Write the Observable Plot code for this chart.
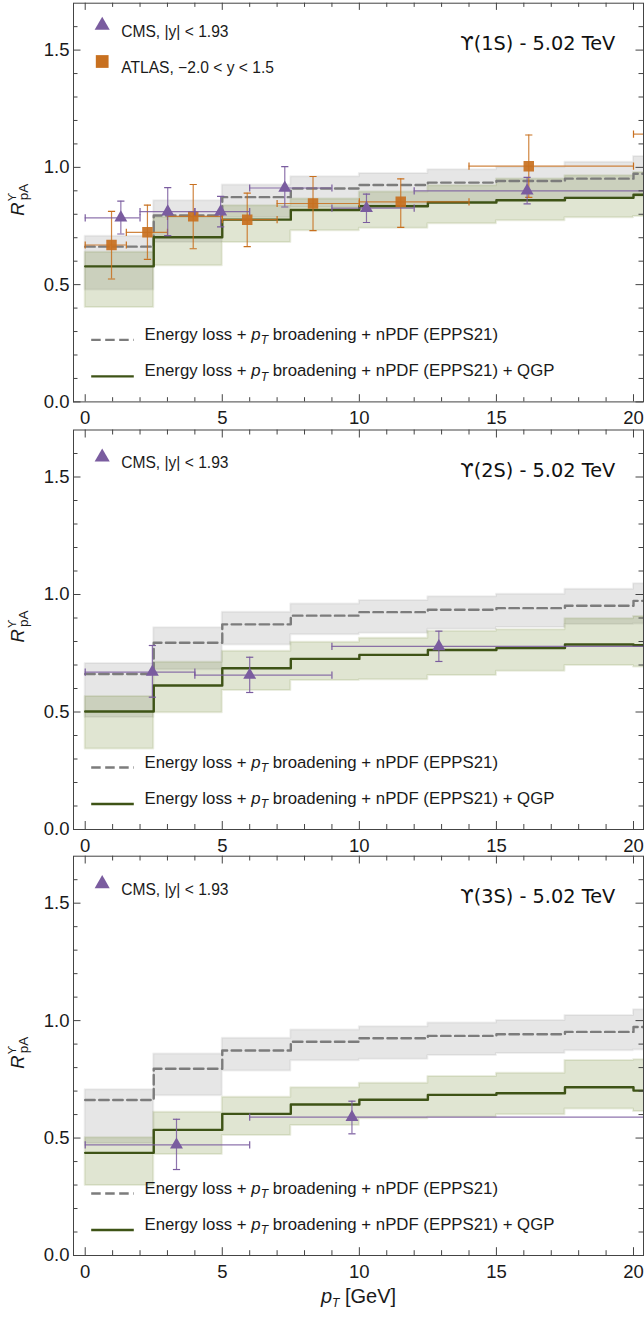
<!DOCTYPE html>
<html><head><meta charset="utf-8">
<script src="https://cdn.jsdelivr.net/npm/d3@7"></script>
<script src="https://cdn.jsdelivr.net/npm/@observablehq/plot@0.6"></script>
<style>
body{margin:0;background:#fff;}
#chart svg{display:block;}
</style></head><body><div id="chart"></div>
<script>
// ---------------- data ----------------
const binStarts = [0, 2.5, 5, 7.5, 10, 12.5, 15, 17.5, 20];
const binEnd = 22.5;

// Energy loss + pT broadening + nPDF (EPPS21)
const elossMid  = [0.662, 0.795, 0.873, 0.910, 0.925, 0.935, 0.942, 0.952, 0.973];
const elossLow  = [0.477, 0.680, 0.785, 0.829, 0.835, 0.852, 0.860, 0.872, 0.875];
const elossHigh = [0.706, 0.858, 0.925, 0.960, 0.974, 0.990, 1.001, 1.022, 1.046];

// ... + QGP
const qgp1SMid  = [0.578, 0.702, 0.777, 0.818, 0.834, 0.850, 0.860, 0.870, 0.883];
const qgp1SLow  = [0.403, 0.581, 0.680, 0.730, 0.740, 0.760, 0.772, 0.785, 0.790];
const qgp1SHigh = [0.638, 0.787, 0.836, 0.865, 0.895, 0.922, 0.950, 0.964, 0.978];

const qgp2SMid  = [0.502, 0.613, 0.686, 0.726, 0.743, 0.764, 0.772, 0.787, 0.784];
const qgp2SLow  = [0.343, 0.497, 0.591, 0.634, 0.637, 0.655, 0.673, 0.698, 0.691];
const qgp2SHigh = [0.566, 0.712, 0.759, 0.797, 0.814, 0.844, 0.850, 0.897, 0.906];

const qgp3SMid  = [0.437, 0.535, 0.603, 0.643, 0.663, 0.684, 0.691, 0.716, 0.702];
const qgp3SLow  = [0.298, 0.430, 0.511, 0.553, 0.582, 0.589, 0.599, 0.624, 0.613];
const qgp3SHigh = [0.501, 0.610, 0.674, 0.714, 0.733, 0.762, 0.776, 0.830, 0.833];

// CMS |y| < 1.93
const cms1SPt   = [1.30, 3.01, 4.94, 7.28, 10.26, 16.12];
const cms1SPtLo = [0, 2, 4, 6, 9, 12];
const cms1SPtHi = [2, 4, 6, 9, 12, 30];
const cms1SR    = [0.785, 0.811, 0.811, 0.912, 0.826, 0.900];
const cms1SLo   = [0.716, 0.709, 0.746, 0.831, 0.765, 0.844];
const cms1SHi   = [0.856, 0.914, 0.876, 1.003, 0.886, 0.957];

const cms2SPt   = [2.45, 6.0, 12.9];
const cms2SPtLo = [0, 4, 9];
const cms2SPtHi = [4, 9, 30];
const cms2SR    = [0.670, 0.657, 0.779];
const cms2SLo   = [0.563, 0.583, 0.715];
const cms2SHi   = [0.783, 0.733, 0.844];

const cms3SPt   = [3.33, 9.73];
const cms3SPtLo = [0, 6];
const cms3SPtHi = [6, 30];
const cms3SR    = [0.471, 0.589];
const cms3SLo   = [0.366, 0.518];
const cms3SHi   = [0.580, 0.657];

// ATLAS -2.0 < y < 1.5 (1S only)
const atlasPt   = [0.96, 2.27, 3.94, 5.91, 8.31, 11.51, 16.18, 24.0];
const atlasPtLo = [0, 1.5, 3, 5, 7, 10, 14, 20];
const atlasPtHi = [1.5, 3, 5, 7, 10, 14, 20, 30];
const atlasR    = [0.669, 0.723, 0.791, 0.777, 0.846, 0.853, 1.005, 1.142];
const atlasLo   = [0.524, 0.608, 0.653, 0.662, 0.730, 0.744, 0.872, 1.030];
const atlasHi   = [0.812, 0.839, 0.927, 0.890, 0.961, 0.951, 1.138, 1.250];

const yMajor = [0, 0.5, 1.0, 1.5];
const yMinor = [0.1,0.2,0.3,0.4,0.6,0.7,0.8,0.9,1.1,1.2,1.3,1.4,1.6];
const xMajor = [0, 5, 10, 15, 20];
const xMinor = [1,2,3,4,6,7,8,9,11,12,13,14,16,17,18,19];

const titles = ["ϒ(1S) - 5.02 TeV", "ϒ(2S) - 5.02 TeV", "ϒ(3S) - 5.02 TeV"];
const cmsLabel = "CMS, |y| < 1.93";
const atlasLabel = "ATLAS, −2.0 < y < 1.5";
const elossLabel = "Energy loss + {pT} broadening + nPDF (EPPS21)";
const qgpLabel = "Energy loss + {pT} broadening + nPDF (EPPS21) + QGP";
const xTitle = "{pT} [GeV]";

// ---------------- helpers ----------------
const purple = "#7a5c9f", orange = "#c8701f", grayLine = "#7c7c7c", greenLine = "#3e5316";
const frameColor = "#444";
const sans = "'Liberation Sans', Arial, sans-serif";

function steps(mid, low, high) {
  const rows = binStarts.map((x, i) => ({x, mid: mid[i], low: low[i], high: high[i]}));
  const last = rows[rows.length - 1];
  rows.push({x: binEnd, mid: last.mid, low: last.low, high: last.high});
  return rows;
}
function points(pt, lo, hi, r, elo, ehi) {
  return pt.map((p, i) => ({pt: p, ptLo: lo[i], ptHi: hi[i], r: r[i], lo: elo[i], hi: ehi[i]}));
}
const hcap = {draw(ctx) { ctx.moveTo(-3.6, 0); ctx.lineTo(3.6, 0); }};
const vcap = {draw(ctx) { ctx.moveTo(0, -3.6); ctx.lineTo(0, 3.6); }};
const lineSym = {draw(ctx) { ctx.moveTo(-21.3, 0); ctx.lineTo(21.3, 0); }};

function errorMarks(data, color, symbol, r, opacity) {
  return [
    Plot.ruleY(data, {y: "r", x1: "ptLo", x2: "ptHi", stroke: color, strokeWidth: 1.2, strokeOpacity: 0.85, clip: true}),
    Plot.dot(data, {x: "ptLo", y: "r", symbol: vcap, fill: "none", stroke: color, strokeWidth: 1.2, clip: true}),
    Plot.dot(data, {x: "ptHi", y: "r", symbol: vcap, fill: "none", stroke: color, strokeWidth: 1.2, clip: true}),
    Plot.ruleX(data, {x: "pt", y1: "lo", y2: "hi", stroke: color, strokeWidth: 1.2, strokeOpacity: 0.85, clip: true}),
    Plot.dot(data, {x: "pt", y: "lo", symbol: hcap, fill: "none", stroke: color, strokeWidth: 1.2, clip: true}),
    Plot.dot(data, {x: "pt", y: "hi", symbol: hcap, fill: "none", stroke: color, strokeWidth: 1.2, clip: true}),
    Plot.dot(data, {x: "pt", y: "r", symbol, r, fill: color, fillOpacity: opacity, stroke: "none", clip: true})
  ];
}

function richify(svg, fontSize) {
  d3.select(svg).selectAll("text").each(function() {
    const t = this.textContent;
    if (!t.includes("{pT}")) return;
    const [a, b] = t.split("{pT}");
    const sel = d3.select(this);
    sel.text(null).style("white-space", "pre");
    const fs = parseFloat(sel.attr("font-size")) || fontSize;
    if (a) sel.append("tspan").text(a);
    sel.append("tspan").attr("font-style", "italic").text("p");
    sel.append("tspan").attr("font-style", "italic").attr("font-size", fs * 0.72).attr("dy", fs * 0.25).text("T");
    sel.append("tspan").attr("dy", -fs * 0.25).text(b);
  });
}

const W = 570, H = 399;
const xDomain = [-0.427, 20.365];

function panel({height, mt, mb, qgp, cms, atlas, title, cmsDy, showXTitle}) {
  const eRows = steps(elossMid, elossLow, elossHigh);
  const qRows = steps(...qgp);
  const marks = [
    Plot.areaY(eRows, {x: "x", y1: "low", y2: "high", curve: "step-after", fill: "#808080", fillOpacity: 0.2, stroke: "#808080", strokeOpacity: 0.12, strokeWidth: 2, clip: true}),
    Plot.areaY(qRows, {x: "x", y1: "low", y2: "high", curve: "step-after", fill: "#5a730f", fillOpacity: 0.19, stroke: "#5a730f", strokeOpacity: 0.12, strokeWidth: 2, clip: true}),
    Plot.line(eRows, {x: "x", y: "mid", curve: "step-after", stroke: grayLine, strokeWidth: 2.4, strokeDasharray: "9.5,4.5", clip: true}),
    Plot.line(qRows, {x: "x", y: "mid", curve: "step-after", stroke: greenLine, strokeWidth: 2.4, clip: true}),
  ];
  if (atlas) marks.push(...errorMarks(atlas, orange, "square", 5.9, 0.92));
  marks.push(...errorMarks(cms, purple, "triangle", 4.8, 1));
  // frame and inward ticks
  marks.push(
    Plot.frame({stroke: frameColor, strokeWidth: 1}),
    Plot.tickY(yMinor, {y: d => d, insetRight: W - 4.5, stroke: frameColor}),
    Plot.tickY(yMajor, {y: d => d, insetRight: W - 7.5, stroke: frameColor}),
    Plot.tickY(yMinor, {y: d => d, insetLeft: W - 4.5, stroke: frameColor}),
    Plot.tickY(yMajor, {y: d => d, insetLeft: W - 7.5, stroke: frameColor}),
    Plot.tickX(xMinor, {x: d => d, insetTop: H - 4.5, stroke: frameColor}),
    Plot.tickX(xMajor, {x: d => d, insetTop: H - 7.5, stroke: frameColor}),
    Plot.tickX(xMinor, {x: d => d, insetBottom: H - 4.5, stroke: frameColor}),
    Plot.tickX(xMajor, {x: d => d, insetBottom: H - 7.5, stroke: frameColor}),
    Plot.axisY({ticks: yMajor, tickSize: 0, tickPadding: 4, tickFormat: d3.format(".1f"), fontSize: 18.5, fill: "#1a1a1a", label: null}),
    Plot.axisX({ticks: xMajor, tickSize: 0, tickPadding: 9, tickFormat: d3.format("d"), fontSize: 18.5, fill: "#1a1a1a", label: null})
  );
  // legend: markers + texts
  marks.push(
    Plot.dot([cmsLabel], {frameAnchor: "top-left", dx: 28.7, dy: cmsDy, symbol: "triangle", r: 5.6, fill: purple}),
    Plot.text([cmsLabel], {frameAnchor: "top-left", dx: 47.7, dy: cmsDy, textAnchor: "start", fontSize: 15.6, fill: "#1a1a1a"})
  );
  if (atlas) marks.push(
    Plot.dot([atlasLabel], {frameAnchor: "top-left", dx: 28.7, dy: cmsDy + 36, symbol: "square", r: 7.2, fill: orange}),
    Plot.text([atlasLabel], {frameAnchor: "top-left", dx: 47.7, dy: cmsDy + 36, textAnchor: "start", fontSize: 15.6, fill: "#1a1a1a"})
  );
  marks.push(
    Plot.dot([elossLabel], {frameAnchor: "bottom-left", dx: 39, dy: -62, symbol: lineSym, fill: "none", stroke: grayLine, strokeWidth: 2.4, strokeDasharray: "9.5,4.5"}),
    Plot.text([elossLabel], {frameAnchor: "bottom-left", dx: 71, dy: -62, textAnchor: "start", fontSize: 16.8, fill: "#1a1a1a"}),
    Plot.dot([qgpLabel], {frameAnchor: "bottom-left", dx: 39, dy: -25.5, symbol: lineSym, fill: "none", stroke: greenLine, strokeWidth: 2.4}),
    Plot.text([qgpLabel], {frameAnchor: "bottom-left", dx: 71, dy: -25.5, textAnchor: "start", fontSize: 16.8, fill: "#1a1a1a"}),
    Plot.text([title], {frameAnchor: "top-right", dx: -28.3, dy: 33.3, textAnchor: "end", fontFamily: "'DejaVu Sans', Verdana, sans-serif", fontSize: 19.3, fill: "#111"})
  );
  if (showXTitle) marks.push(
    Plot.text([xTitle], {frameAnchor: "bottom", dy: 47, fontSize: 20, fill: "#1a1a1a"})
  );
  const svg = Plot.plot({
    width: 644, height,
    marginLeft: 73, marginRight: 1, marginTop: mt, marginBottom: mb,
    x: {domain: xDomain, axis: null},
    y: {domain: [0, 1.7], axis: null},
    style: {fontFamily: sans, background: "white", overflow: "visible"},
    marks
  });
  richify(svg, 16.8);
  // y-axis label R^ϒ_pA
  const lab = d3.select(svg).append("text")
    .attr("transform", `translate(23.5, ${mt + 197}) rotate(-90)`)
    .attr("text-anchor", "middle")
    .attr("font-family", sans).attr("font-size", 18.5).attr("fill", "#1a1a1a");
  lab.append("tspan").attr("font-style", "italic").text("R");
  lab.append("tspan").attr("font-size", 11).attr("dy", -8).attr("dx", 1).text("ϒ");
  lab.append("tspan").attr("font-size", 13.5).attr("dx", -7.5).attr("dy", 12).text("pA");
  return svg;
}

const root = document.getElementById("chart");
root.append(panel({height: 428, mt: 2.7, mb: 26.6, qgp: [qgp1SMid, qgp1SLow, qgp1SHigh],
  cms: points(cms1SPt, cms1SPtLo, cms1SPtHi, cms1SR, cms1SLo, cms1SHi),
  atlas: points(atlasPt, atlasPtLo, atlasPtHi, atlasR, atlasLo, atlasHi),
  title: titles[0], cmsDy: 22.3}));
root.append(panel({height: 426, mt: 1.5, mb: 25, qgp: [qgp2SMid, qgp2SLow, qgp2SHigh],
  cms: points(cms2SPt, cms2SPtLo, cms2SPtHi, cms2SR, cms2SLo, cms2SHi),
  title: titles[1], cmsDy: 27.2}));
root.append(panel({height: 466, mt: 1.7, mb: 65, qgp: [qgp3SMid, qgp3SLow, qgp3SHigh],
  cms: points(cms3SPt, cms3SPtLo, cms3SPtHi, cms3SR, cms3SLo, cms3SHi),
  title: titles[2], cmsDy: 27.6, showXTitle: true}));
</script>
</body></html>
